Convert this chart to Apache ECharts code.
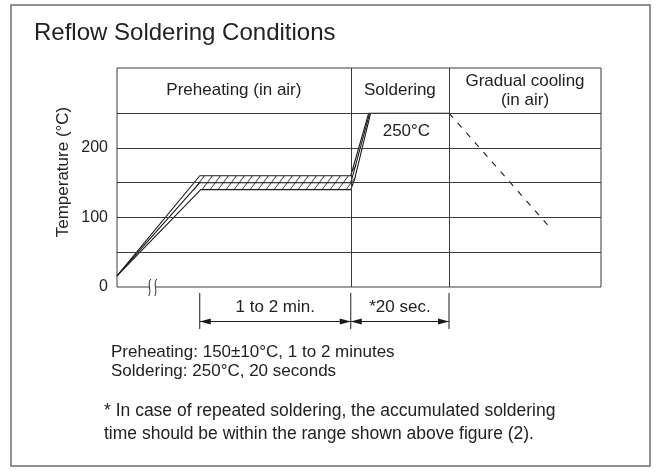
<!DOCTYPE html>
<html>
<head>
<meta charset="utf-8">
<script src="https://cdn.jsdelivr.net/npm/echarts@6/dist/echarts.min.js"></script>
<style>
  html, body { margin: 0; padding: 0; background: #fff; }
  #chart { width: 656px; height: 473px; }
</style>
</head>
<body>
<div id="chart"></div>
<script>
// Temperature axis
const yTicks = [0, 100, 200];
const gridLevels = [50, 100, 150, 200, 250];
const tempTop = 315;

// Process phases along the (broken) time axis, in arbitrary time units
const phaseNames = ['Preheating (in air)', 'Soldering', 'Gradual cooling\n(in air)'];
const phaseBounds = [0, 48.3, 68.6, 100];

// Reflow profile: upper, nominal and lower tolerance curves (time, °C)
const upperProfile   = [[0, 16], [17.1, 160], [48.3, 160], [52.0, 250], [68.6, 250]];
const nominalProfile = [[0, 16], [17.1, 150], [48.3, 150], [48.9, 165], [52.2, 250]];
const lowerProfile   = [[0, 16], [17.3, 140], [48.3, 140], [49.1, 155], [52.4, 250]];
const coolingProfile = [[68.6, 250], [89.0, 89]];

// Preheat tolerance band (hatched) limits
const bandLow = 140;
const bandHigh = 175;

// Peak label
const peakTemp = 250;
const peakLabel = '250°C';
const peakLabelAt = 59.8;

// Axis break position and duration spans
const axisBreakAt = 7.4;
const spanBounds = [[17.1, 48.3], [48.3, 68.6]];
const spanLabels = ['1 to 2 min.', '*20 sec.'];

const noteLines = ['Preheating: 150±10°C, 1 to 2 minutes', 'Soldering: 250°C, 20 seconds'];
const footLines = ['* In case of repeated soldering, the accumulated soldering',
                   'time should be within the range shown above figure (2).'];

const FONT = '"Liberation Sans", Arial, Helvetica, sans-serif';
const INK = '#1a1a1a';
const RULE = '#3a3a3a';
const TEXT = '#222';

// Clip a polygon to lo <= y <= hi (data space)
function clipSlab(poly, lo, hi) {
  function clip(pts, inside, cut) {
    const out = [];
    for (let i = 0; i < pts.length; i++) {
      const a = pts[i], b = pts[(i + 1) % pts.length];
      const ia = inside(a), ib = inside(b);
      if (ia) out.push(a);
      if (ia !== ib) {
        const t = (cut - a[1]) / (b[1] - a[1]);
        out.push([a[0] + t * (b[0] - a[0]), cut]);
      }
    }
    return out;
  }
  let p = clip(poly, q => q[1] >= lo, lo);
  p = clip(p, q => q[1] <= hi, hi);
  return p;
}

// Diagonal hatch segments inside a pixel polygon (even-odd fill)
function hatchSegments(poly, step, slope) {
  const xs = poly.map(p => p[0]), ys = poly.map(p => p[1]);
  const minX = Math.min(...xs), maxX = Math.max(...xs);
  const minY = Math.min(...ys), maxY = Math.max(...ys);
  const H = maxY - minY;
  const segs = [];
  for (let c = minX - slope * H - step; c <= maxX + step; c += step) {
    const ax = c, ay = maxY, bx = c + slope * H, by = minY;
    const ts = [];
    for (let i = 0; i < poly.length; i++) {
      const p = poly[i], q = poly[(i + 1) % poly.length];
      const rx = bx - ax, ry = by - ay, sx = q[0] - p[0], sy = q[1] - p[1];
      const den = rx * sy - ry * sx;
      if (Math.abs(den) < 1e-9) continue;
      const t = ((p[0] - ax) * sy - (p[1] - ay) * sx) / den;
      const u = ((p[0] - ax) * ry - (p[1] - ay) * rx) / den;
      if (u >= 0 && u < 1 && t >= 0 && t <= 1) ts.push(t);
    }
    ts.sort((a, b) => a - b);
    for (let k = 0; k + 1 < ts.length; k += 2) {
      segs.push([ax + ts[k] * (bx - ax), ay + ts[k] * (by - ay),
                 ax + ts[k + 1] * (bx - ax), ay + ts[k + 1] * (by - ay)]);
    }
  }
  return segs;
}

function renderOverlay(params, api) {
  const children = [];
  const line = (x1, y1, x2, y2, w) => ({
    type: 'line', shape: { x1, y1, x2, y2 },
    style: { stroke: INK, lineWidth: w || 1 }
  });

  // hatched tolerance band
  const band = upperProfile.concat(lowerProfile.slice().reverse());
  const bandPx = clipSlab(band, bandLow, bandHigh).map(p => api.coord(p));
  hatchSegments(bandPx, 8, 0.75).forEach(s => children.push(line(s[0], s[1], s[2], s[3], 0.9)));

  // axis break mark
  const b = api.coord([axisBreakAt, 0]);
  children.push({ type: 'rect', shape: { x: b[0] - 3, y: b[1] - 2, width: 6, height: 4 },
                  style: { fill: '#fff' } });
  [-3, 3].forEach(dx => {
    const x = b[0] + dx;
    children.push({
      type: 'bezierCurve',
      shape: { x1: x + 1, y1: b[1] - 8, x2: x - 1, y2: b[1] + 9,
               cpx1: x - 3, cpy1: b[1] - 3, cpx2: x + 2, cpy2: b[1] + 3 },
      style: { stroke: INK, lineWidth: 0.9, fill: null }
    });
  });

  // duration dimension lines
  const base = api.coord([0, 0])[1];
  const seen = {};
  spanBounds.forEach((sp, i) => {
    const x1 = api.coord([sp[0], 0])[0], x2 = api.coord([sp[1], 0])[0];
    [x1, x2].forEach(x => {
      const key = Math.round(x);
      if (!seen[key]) { seen[key] = 1; children.push(line(x, base + 6, x, base + 42, 1)); }
    });
    const ay = base + 34.5;
    children.push(line(x1, ay, x2, ay, 1));
    children.push({ type: 'polygon', shape: { points: [[x1, ay], [x1 + 11, ay - 3], [x1 + 11, ay + 3]] },
                    style: { fill: INK } });
    children.push({ type: 'polygon', shape: { points: [[x2, ay], [x2 - 11, ay - 3], [x2 - 11, ay + 3]] },
                    style: { fill: INK } });
    children.push({ type: 'text', x: (x1 + x2) / 2, y: base + 20,
                    style: { text: spanLabels[i], fill: TEXT, font: '17px ' + FONT,
                             align: 'center', verticalAlign: 'middle' } });
  });

  // peak temperature label
  const pk = api.coord([peakLabelAt, peakTemp]);
  children.push({ type: 'text', x: pk[0], y: pk[1] + 18,
                  style: { text: peakLabel, fill: TEXT, font: '17px ' + FONT,
                           align: 'center', verticalAlign: 'middle' } });

  return { type: 'group', children };
}

const profileLine = (data) => ({
  type: 'line', data, symbol: 'none', silent: true, z: 4,
  lineStyle: { color: INK, width: 1.1 }
});

const chart = echarts.init(document.getElementById('chart'), null, { renderer: 'canvas' });

chart.setOption({
  animation: false,
  backgroundColor: '#fff',
  title: {
    text: 'Reflow Soldering Conditions', left: 29, top: 16,
    textStyle: { fontFamily: FONT, fontSize: 24, fontWeight: 'normal', color: TEXT }
  },
  grid: {
    left: 117, right: 55, top: 68, bottom: 186,
    show: true, borderColor: RULE, borderWidth: 1, backgroundColor: 'transparent'
  },
  xAxis: {
    type: 'value', min: 0, max: 100,
    axisLine: { show: false }, axisTick: { show: false },
    axisLabel: { show: false }, splitLine: { show: false }
  },
  yAxis: {
    type: 'value', min: 0, max: tempTop, interval: 50,
    axisLine: { show: false }, axisTick: { show: false }, splitLine: { show: false },
    axisLabel: {
      margin: 9, fontFamily: FONT, fontSize: 16, color: TEXT,
      formatter: v => (yTicks.indexOf(v) >= 0 ? String(v) : '')
    }
  },
  graphic: [
    { type: 'rect', shape: { x: 11, y: 5, width: 639, height: 461 },
      style: { fill: 'none', stroke: '#6e6e6e', lineWidth: 1.5 }, silent: true },
    { type: 'text', x: 63, y: 172, rotation: Math.PI / 2,
      style: { text: 'Temperature (°C)', font: '17px ' + FONT, fill: TEXT,
               align: 'center', verticalAlign: 'middle' } },
    { type: 'text', left: 111, top: 343,
      style: { text: noteLines.join('\n'), font: '17px ' + FONT, fill: TEXT, lineHeight: 19 } },
    { type: 'text', left: 104, top: 400,
      style: { text: footLines.join('\n'), font: '17.5px ' + FONT, fill: TEXT, lineHeight: 23 } }
  ],
  series: [
    {
      type: 'line', data: [], silent: true,
      markLine: {
        silent: true, symbol: 'none', label: { show: false },
        lineStyle: { color: RULE, width: 1, type: 'solid' },
        data: gridLevels.map(v => ({ yAxis: v }))
          .concat(phaseBounds.slice(1, -1).map(v => ({ xAxis: v })))
      },
      markArea: {
        silent: true,
        itemStyle: { color: 'transparent' },
        label: { position: 'inside', fontFamily: FONT, fontSize: 17, color: TEXT, lineHeight: 19 },
        data: phaseNames.map((n, i) => [
          { name: n, xAxis: phaseBounds[i], yAxis: peakTemp },
          { xAxis: phaseBounds[i + 1], yAxis: tempTop }
        ])
      }
    },
    profileLine(upperProfile),
    profileLine(nominalProfile),
    profileLine(lowerProfile),
    {
      type: 'line', data: coolingProfile, symbol: 'none', silent: true, z: 4,
      lineStyle: { color: INK, width: 1.1, type: [6, 7] }
    },
    {
      type: 'custom', data: [0], clip: false, silent: true, z: 5,
      renderItem: renderOverlay
    }
  ]
});
</script>
</body>
</html>
